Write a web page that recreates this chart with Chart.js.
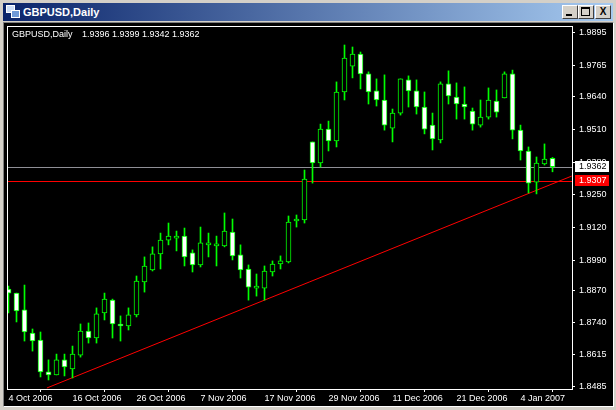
<!DOCTYPE html>
<html>
<head>
<meta charset="utf-8">
<title>GBPUSD,Daily</title>
<script src="https://cdn.jsdelivr.net/npm/chart.js@4"></script>
<style>
html, body { margin: 0; padding: 0; background: #d4d0c8; overflow: hidden; }
#win { position: relative; width: 616px; height: 410px; background: #d4d0c8; }
#bar { position: absolute; left: 3px; top: 3px; width: 610px; height: 18px;
       background: linear-gradient(to right, #0a246a, #a6caf0); }
#caption { position: absolute; left: 20px; top: 2px; color: #fff;
           font: bold 11px/14px "Liberation Sans", sans-serif; }
.ico { position: absolute; width: 7px; height: 6px; background: #cfe0f8; border: 1px solid #fff; }
.btn { position: absolute; top: 2px; width: 14px; height: 12px; background: #d4d0c8;
       border: 1px solid; border-color: #fff #404040 #404040 #fff; color: #000;
       font: bold 10px/12px "Liberation Sans", sans-serif; text-align: center; }
.btn i { position: absolute; display: block; }
#frame { position: absolute; left: 3px; top: 22px; width: 609px; height: 383px;
         border: 1px solid; border-color: #808080 #fff #fff #808080; background: #000; }
canvas { position: absolute; left: 0; top: 0; }
</style>
</head>
<body>
<div id="win">
  <div id="bar">
    <div class="ico" style="left:3px;top:2px"></div>
    <div class="ico" style="left:8px;top:7px;background:#6f9ad8"></div>
    <div id="caption">GBPUSD,Daily</div>
    <div class="btn" style="left:559px"><i style="left:3px;top:8px;width:6px;height:2px;background:#000"></i></div>
    <div class="btn" style="left:575px"><i style="left:2px;top:1px;width:7px;height:6px;border:1px solid #000;border-top-width:2px"></i></div>
    <div class="btn" style="left:592px">X</div>
  </div>
  <div id="frame"><canvas id="chart" width="608" height="382"></canvas></div>
</div>
<script>
// daily candles
var opens = [1.8875,1.8859,1.8792,1.8700,1.8672,1.8545,1.8533,1.8593,1.8557,1.8612,1.8708,1.8680,1.8780,1.8831,1.8736,1.8728,1.8772,1.8903,1.8951,1.9015,1.9070,1.9078,1.9086,1.9019,1.8971,1.9051,1.9047,1.9047,1.9102,1.9011,1.8955,1.8879,1.8879,1.8943,1.8975,1.8983,1.9146,1.9150,1.9461,1.9377,1.9512,1.9465,1.9660,1.9763,1.9811,1.9732,1.9664,1.9628,1.9516,1.9576,1.9708,1.9664,1.9600,1.9528,1.9469,1.9692,1.9640,1.9612,1.9584,1.9528,1.9560,1.9624,1.9636,1.9732,1.9508,1.9425,1.9301,1.9373,1.9396];
var highs = [1.8887,1.8859,1.8891,1.8716,1.8704,1.8593,1.8616,1.8616,1.8648,1.8736,1.8740,1.8800,1.8859,1.8835,1.8768,1.8800,1.8927,1.9003,1.9043,1.9098,1.9138,1.9106,1.9118,1.9031,1.9122,1.9098,1.9086,1.9178,1.9154,1.9051,1.8971,1.8935,1.8967,1.8987,1.9007,1.9166,1.9170,1.9349,1.9461,1.9532,1.9544,1.9700,1.9847,1.9839,1.9819,1.9740,1.9712,1.9728,1.9592,1.9712,1.9724,1.9708,1.9660,1.9576,1.9700,1.9744,1.9696,1.9680,1.9596,1.9628,1.9676,1.9668,1.9740,1.9747,1.9528,1.9441,1.9401,1.9453,1.9399];
var lows = [1.8780,1.8744,1.8668,1.8628,1.8525,1.8513,1.8533,1.8529,1.8521,1.8604,1.8660,1.8660,1.8752,1.8680,1.8668,1.8712,1.8764,1.8863,1.8947,1.8955,1.9051,1.9027,1.8967,1.8943,1.8963,1.9003,1.8967,1.9043,1.8991,1.8919,1.8831,1.8847,1.8831,1.8927,1.8955,1.8979,1.9122,1.9138,1.9297,1.9361,1.9425,1.9441,1.9628,1.9716,1.9672,1.9612,1.9604,1.9508,1.9461,1.9568,1.9600,1.9572,1.9493,1.9429,1.9457,1.9612,1.9552,1.9552,1.9508,1.9520,1.9552,1.9560,1.9636,1.9473,1.9389,1.9258,1.9254,1.9369,1.9342];
var closes = [1.8859,1.8788,1.8704,1.8668,1.8545,1.8533,1.8593,1.8565,1.8616,1.8708,1.8680,1.8776,1.8835,1.8736,1.8728,1.8772,1.8907,1.8967,1.9015,1.9070,1.9086,1.9086,1.9003,1.8971,1.9059,1.9059,1.9055,1.9106,1.9007,1.8951,1.8883,1.8887,1.8947,1.8975,1.8987,1.9142,1.9154,1.9313,1.9377,1.9512,1.9465,1.9660,1.9795,1.9811,1.9732,1.9660,1.9628,1.9528,1.9576,1.9712,1.9664,1.9600,1.9512,1.9473,1.9692,1.9644,1.9612,1.9600,1.9532,1.9560,1.9628,1.9580,1.9732,1.9508,1.9425,1.9297,1.9377,1.9393,1.9362];

// axis labels
var dateTicks = [0, 8, 16, 24, 32, 40, 48, 56, 64];
var dateLabels = ['4 Oct 2006', '16 Oct 2006', '26 Oct 2006', '7 Nov 2006', '17 Nov 2006', '29 Nov 2006', '11 Dec 2006', '21 Dec 2006', '4 Jan 2007'];
var priceTicks = [1.9895, 1.9765, 1.9640, 1.9510, 1.9380, 1.9250, 1.9120, 1.8990, 1.8870, 1.8740, 1.8615, 1.8485];

// drawn lines
var bidPrice = 1.9362;
var levelPrice = 1.9307;
var trendBars = [4.8, 70.4];
var trendPrices = [1.8481, 1.9325];

var headerText = 'GBPUSD,Daily';
var headerOhlc = '1.9396 1.9399 1.9342 1.9362';

var smallFont = { family: '"Liberation Sans", sans-serif', size: 9 };

var firstBar = -0.0625;
var lastBar = 70.4375;

function hline(price, color) {
    return {
        type: 'line', order: 3, data: [{ x: firstBar, y: price }, { x: lastBar, y: price }],
        borderColor: color, borderWidth: 1, pointRadius: 0, snapRow: true
    };
}

var wicks = highs.map(function (h, i) { return { x: i, y: [lows[i], h] }; });
var bodies = opens.map(function (o, i) { return { x: i, y: [o, closes[i]] }; });
var bodyFill = opens.map(function (o, i) { return closes[i] < o ? '#ffffff' : '#000000'; });

// window furniture of the chart: frame, header line and the two price tags
var furniture = {
    id: 'furniture',
    // the horizontal levels sit on a whole pixel row so they stay 1px sharp
    beforeDatasetDraw: function (chart, args) {
        if (!chart.data.datasets[args.index].snapRow) return;
        var py = args.meta.data[0].y;
        chart.ctx.save();
        chart.ctx.translate(0, Math.round(py) + 0.5 - py);
    },
    afterDatasetDraw: function (chart, args) {
        if (chart.data.datasets[args.index].snapRow) chart.ctx.restore();
    },
    afterDatasetsDraw: function (chart) {
        var ctx = chart.ctx, a = chart.chartArea, y = chart.scales.y;
        ctx.save();
        ctx.strokeStyle = '#ffffff';
        ctx.lineWidth = 1;
        ctx.strokeRect(a.left - 0.5, a.top - 0.5, a.right - a.left + 1, a.bottom - a.top + 1);

        ctx.font = '9px "Liberation Sans", sans-serif';
        ctx.textBaseline = 'middle';
        ctx.textAlign = 'left';
        ctx.fillStyle = '#ffffff';
        ctx.fillText(headerText, 8, 12);
        ctx.fillText(headerOhlc, 78, 12);

        var boxX = a.right + 3;
        var by = Math.round(y.getPixelForValue(bidPrice));
        ctx.fillStyle = '#ffffff';
        ctx.fillRect(boxX, by - 6, 34, 11);
        ctx.fillStyle = '#000000';
        ctx.fillText(bidPrice.toFixed(4), boxX + 4, by);

        var ly = Math.round(y.getPixelForValue(levelPrice));
        ctx.fillStyle = '#ff0000';
        ctx.fillRect(boxX, ly - 6, 34, 11);
        ctx.fillStyle = '#ffffff';
        ctx.fillText(levelPrice.toFixed(4), boxX + 4, ly);
        ctx.restore();
    }
};

new Chart(document.getElementById('chart'), {
    type: 'bar',
    plugins: [furniture],
    data: {
        datasets: [
            hline(bidPrice, '#8f8f96'),
            hline(levelPrice, '#ff0000'),
            {
                type: 'line', order: 3,
                data: trendBars.map(function (b, i) { return { x: b, y: trendPrices[i] }; }),
                borderColor: '#ff0000', borderWidth: 1, pointRadius: 0
            },
            { order: 2, grouped: false, barThickness: 1, data: wicks, backgroundColor: '#00ff00' },
            {
                order: 1, grouped: false, barThickness: 5, data: bodies,
                backgroundColor: bodyFill, borderColor: '#00ff00', borderWidth: 1, borderSkipped: false
            }
        ]
    },
    options: {
        responsive: false,
        animation: false,
        events: [],
        layout: { padding: { left: 4, top: 4, right: 0, bottom: 0 } },
        plugins: { legend: { display: false }, tooltip: { enabled: false } },
        scales: {
            x: {
                type: 'linear', min: firstBar, max: lastBar, offset: false,
                border: { display: false },
                grid: { drawOnChartArea: false, color: '#ffffff', tickLength: 3 },
                afterBuildTicks: function (s) { s.ticks = dateTicks.map(function (v) { return { value: v }; }); },
                afterFit: function (s) { s.height = 16; s.paddingLeft = 0; s.paddingRight = 0; },
                ticks: {
                    color: '#ffffff', font: smallFont, align: 'start', autoSkip: false, maxRotation: 0, padding: 1,
                    callback: function (v) { return dateLabels[dateTicks.indexOf(v)]; }
                }
            },
            y: {
                position: 'right', min: 1.8477, max: 1.99187,
                border: { display: false },
                grid: { drawOnChartArea: false, color: '#ffffff', tickLength: 3 },
                afterBuildTicks: function (s) { s.ticks = priceTicks.map(function (v) { return { value: v }; }); },
                afterFit: function (s) { s.width = 40; s.paddingTop = 0; s.paddingBottom = 0; },
                ticks: {
                    color: '#ffffff', font: smallFont, padding: 4, autoSkip: false,
                    callback: function (v) { return v.toFixed(4); }
                }
            }
        }
    }
});
</script>
</body>
</html>
